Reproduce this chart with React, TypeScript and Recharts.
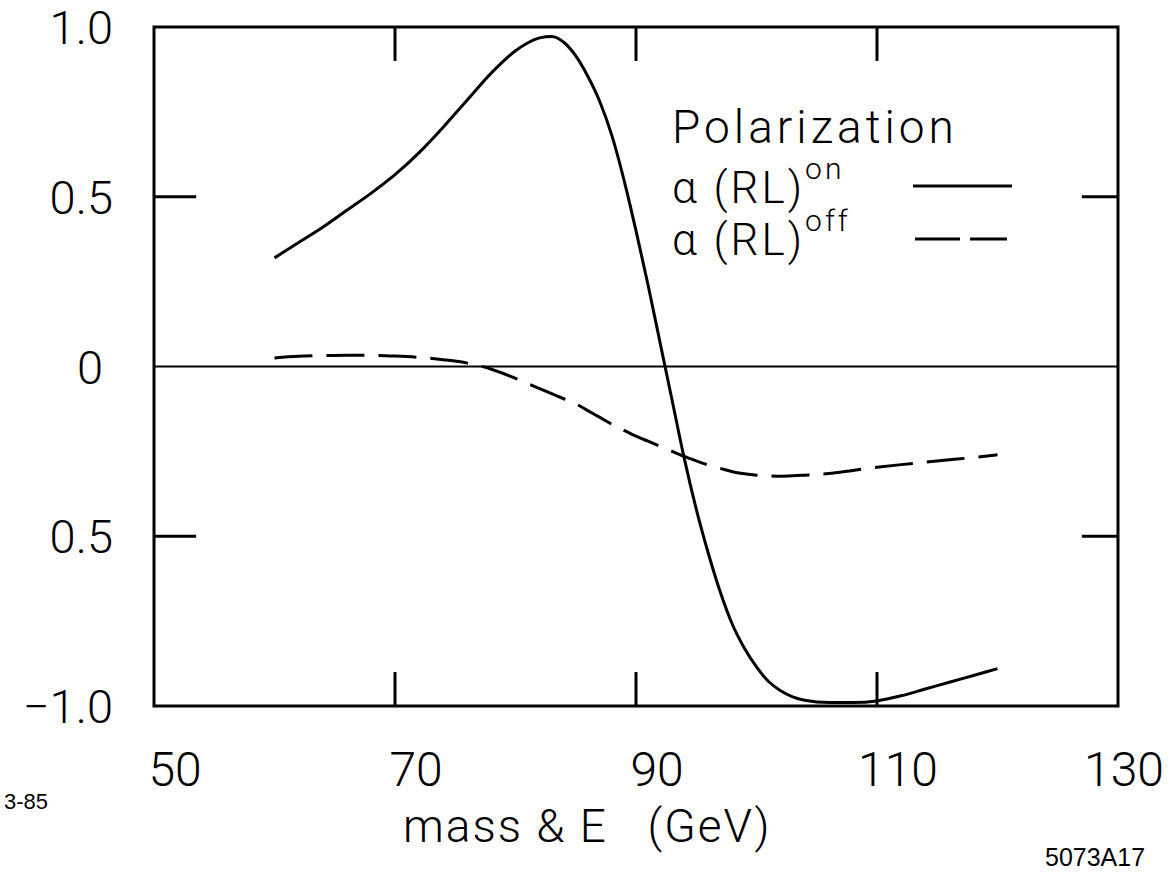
import {
  Line,
  LineChart,
  ReferenceArea,
  ReferenceLine,
  XAxis,
  YAxis,
} from 'recharts'

// mass & E (GeV)
const massValues = [
  60, 62, 64, 66, 68, 70, 72, 74, 76, 78, 80, 81, 82, 83, 84, 85, 86, 87, 88, 89, 90, 91, 92, 93,
  94, 95, 96, 97, 98, 99, 100, 101, 102, 103, 104, 106, 108, 110, 112, 114, 116, 118, 120,
]
// alpha(RL) on
const polarizationOn = [
  0.32, 0.365, 0.41, 0.46, 0.51, 0.565, 0.63, 0.705, 0.785, 0.865, 0.93, 0.953, 0.968, 0.972, 0.955,
  0.915, 0.855, 0.78, 0.68, 0.55, 0.4, 0.24, 0.07, -0.1, -0.27, -0.42, -0.55, -0.665, -0.76, -0.83,
  -0.885, -0.928, -0.955, -0.973, -0.983, -0.99, -0.99, -0.985, -0.97, -0.95, -0.93, -0.91, -0.89,
]
// alpha(RL) off
const polarizationOff = [
  0.025, 0.03, 0.032, 0.033, 0.033, 0.031, 0.027, 0.02, 0.01, -0.008, -0.035, -0.05, -0.065, -0.08,
  -0.095, -0.11, -0.13, -0.15, -0.17, -0.188, -0.205, -0.22, -0.235, -0.25, -0.265, -0.278, -0.29,
  -0.3, -0.31, -0.316, -0.32, -0.322, -0.323, -0.322, -0.32, -0.315, -0.306, -0.297, -0.289, -0.282,
  -0.275, -0.268, -0.26,
]

const xTicks = [50, 70, 90, 110, 130]
const xTickLabels = ['50', '70', '90', '110', '130']
const yTicks = [1, 0.5, 0, -0.5, -1]
const yTickLabels = ['1.0', '0.5', '0', '0.5', '\u22121.0']
const xTickMarks = [70, 90, 110]
const yTickMarks = [0.5, -0.5]

const data = massValues.map((m, i) => ({
  mass: m,
  on: polarizationOn[i],
  off: polarizationOff[i],
}))

const FONT = 'Roboto, "Liberation Sans", sans-serif'
const INK = '#000'

function XTick({ x, payload }: any) {
  const i = xTicks.indexOf(payload.value)
  // hand-lettered labels sit a bit right of their tick
  const dx = i === xTicks.length - 1 ? 6 : 21
  return (
    <text x={x + dx} y={786} textAnchor="middle" fontFamily={FONT} fontWeight={300} fontSize={48} fill={INK}>
      {xTickLabels[i]}
    </text>
  )
}

function YTick({ y, payload }: any) {
  const i = yTicks.indexOf(payload.value)
  const label = yTickLabels[i]
  return (
    <text
      x={label === '0' ? 103 : 113}
      y={y}
      dy={17}
      textAnchor="end"
      fontFamily={FONT}
      fontWeight={300}
      fontSize={47}
      fill={INK}
    >
      {label}
    </text>
  )
}

function PolarizationLegend() {
  return (
    <svg width={360} height={170} style={{ overflow: 'visible', display: 'block' }}>
      <g fontFamily={FONT} fontWeight={300} fill={INK}>
        <text x={0} y={35} fontSize={46} letterSpacing={4}>
          Polarization
        </text>
        <text x={0} y={95} fontSize={44} letterSpacing={3}>
          {'\u03b1 (RL)'}
          <tspan dy={-24} fontSize={30}>
            on
          </tspan>
        </text>
        <text x={0} y={147} fontSize={44} letterSpacing={3}>
          {'\u03b1 (RL)'}
          <tspan dy={-24} fontSize={30}>
            off
          </tspan>
        </text>
      </g>
      <line x1={241} x2={340} y1={78} y2={78} stroke={INK} strokeWidth={3} />
      <line x1={243} x2={335} y1={131} y2={131} stroke={INK} strokeWidth={3} strokeDasharray="45 10" />
    </svg>
  )
}

export default function App() {
  return (
    <div style={{ position: 'absolute', left: 0, top: 0, width: 1172, height: 872, background: '#fff' }}>
      <LineChart
        width={1172}
        height={872}
        data={data}
        margin={{ top: 27, right: 54, bottom: 106, left: 54 }}
      >
        <XAxis
          dataKey="mass"
          type="number"
          domain={[50, 130]}
          ticks={xTicks}
          tick={<XTick />}
          axisLine={false}
          tickLine={false}
          height={60}
          interval={0}
        />
        <YAxis
          type="number"
          domain={[-1, 1]}
          ticks={yTicks}
          tick={<YTick />}
          axisLine={false}
          tickLine={false}
          width={100}
          interval={0}
        />
        <ReferenceArea
          x1={50}
          x2={130}
          y1={-1}
          y2={1}
          fill="none"
          fillOpacity={0}
          stroke={INK}
          strokeWidth={3}
        />
        <ReferenceLine y={0} stroke={INK} strokeWidth={2} />
        {xTickMarks.map((t) => (
          <ReferenceLine
            key={`b${t}`}
            segment={[
              { x: t, y: -1 },
              { x: t, y: -0.9 },
            ]}
            stroke={INK}
            strokeWidth={3}
          />
        ))}
        {xTickMarks.map((t) => (
          <ReferenceLine
            key={`t${t}`}
            segment={[
              { x: t, y: 1 },
              { x: t, y: 0.9 },
            ]}
            stroke={INK}
            strokeWidth={3}
          />
        ))}
        {yTickMarks.map((t) => (
          <ReferenceLine
            key={`l${t}`}
            segment={[
              { x: 50, y: t },
              { x: 53.5, y: t },
            ]}
            stroke={INK}
            strokeWidth={3}
          />
        ))}
        {yTickMarks.map((t) => (
          <ReferenceLine
            key={`r${t}`}
            segment={[
              { x: 127, y: t },
              { x: 130, y: t },
            ]}
            stroke={INK}
            strokeWidth={3}
          />
        ))}
        <Line
          type="monotone"
          dataKey="on"
          stroke={INK}
          strokeWidth={3}
          dot={false}
          isAnimationActive={false}
        />
        <Line
          type="monotone"
          dataKey="off"
          stroke={INK}
          strokeWidth={3}
          strokeDasharray="38 14"
          dot={false}
          isAnimationActive={false}
        />
      </LineChart>
      <div style={{ position: 'absolute', left: 672, top: 108 }}>
        <PolarizationLegend />
      </div>
      <div
        style={{
          position: 'absolute',
          left: 403,
          top: 803,
          fontFamily: FONT,
          fontWeight: 300,
          fontSize: 46,
          letterSpacing: 2,
          whiteSpace: 'pre',
          lineHeight: 1,
        }}
      >
        {'mass & E   (GeV)'}
      </div>
      <div
        style={{
          position: 'absolute',
          left: 4,
          top: 791,
          fontFamily: '"Liberation Sans", Arial, sans-serif',
          fontSize: 22,
          lineHeight: 1,
        }}
      >
        3-85
      </div>
      <div
        style={{
          position: 'absolute',
          left: 1045,
          top: 845,
          fontFamily: '"Liberation Sans", Arial, sans-serif',
          fontSize: 25,
          lineHeight: 1,
        }}
      >
        5073A17
      </div>
    </div>
  )
}
